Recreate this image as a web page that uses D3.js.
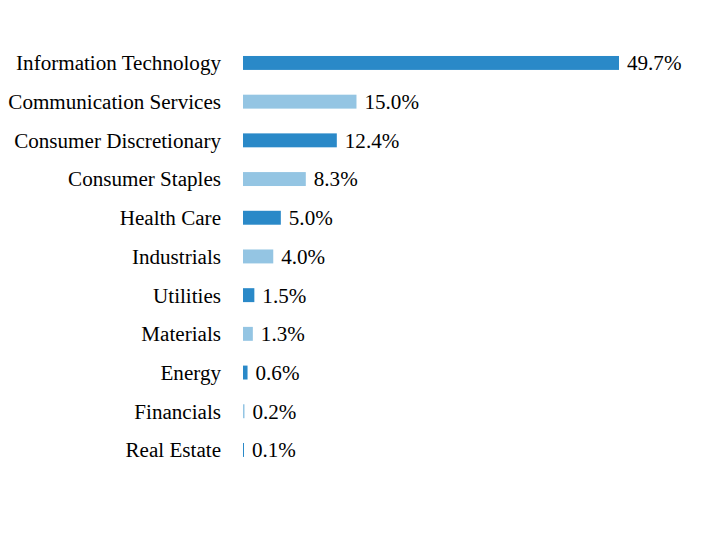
<!DOCTYPE html>
<head>
    <meta charset="utf-8">
    <script src="https://d3js.org/d3.v7.min.js"></script>
    <style>
        body { margin: 0; background: #fff; }
    </style>
</head>
<body>
    <div id="container"></div>
    <script>
        // sectors and weights (%)
        var sectors = ["Information Technology", "Communication Services", "Consumer Discretionary",
            "Consumer Staples", "Health Care", "Industrials", "Utilities", "Materials",
            "Energy", "Financials", "Real Estate"]
        var weights = [49.7, 15.0, 12.4, 8.3, 5.0, 4.0, 1.5, 1.3, 0.6, 0.2, 0.1]
        var barColors = ["#2a89c8", "#94c5e3"]

        var width = 716, height = 552
        var margin = { left: 243, top: 43.6 }

        var svg = d3.select("#container").append("svg")
            .attr("width", width)
            .attr("height", height)

        var xScale = d3.scaleLinear().domain([0, 49.7]).range([margin.left, 619])
        var yScale = d3.scaleBand()
            .domain(sectors)
            .range([margin.top, margin.top + 38.7 * 11])
            .paddingInner(0.64)
            .paddingOuter(0.32)

        var rows = svg.selectAll(".row")
            .data(sectors.map(function (s, i) { return { name: s, value: weights[i], i: i } }))
            .enter().append("g")
            .attr("class", "row")

        rows.append("rect")
            .attr("x", xScale(0))
            .attr("y", d => yScale(d.name))
            .attr("width", d => Math.max(1, xScale(d.value) - xScale(0)))
            .attr("height", yScale.bandwidth())
            .style("fill", d => barColors[d.i % 2])

        // category labels
        rows.append("text")
            .attr("x", 221)
            .attr("y", d => yScale(d.name) + yScale.bandwidth() / 2)
            .attr("dy", ".35em")
            .style("font-family", "'Liberation Serif'")
            .style("font-size", "21.1px")
            .style("fill", "#000")
            .style("text-anchor", "end")
            .text(d => d.name)

        // value labels
        rows.append("text")
            .attr("x", d => Math.max(xScale(d.value), xScale(0) + 1) + 8)
            .attr("y", d => yScale(d.name) + yScale.bandwidth() / 2)
            .attr("dy", ".35em")
            .style("font-family", "'Liberation Serif'")
            .style("font-size", "21.1px")
            .style("fill", "#000")
            .style("text-anchor", "start")
            .text(d => d.value.toFixed(1) + "%")
    </script>
</body>
